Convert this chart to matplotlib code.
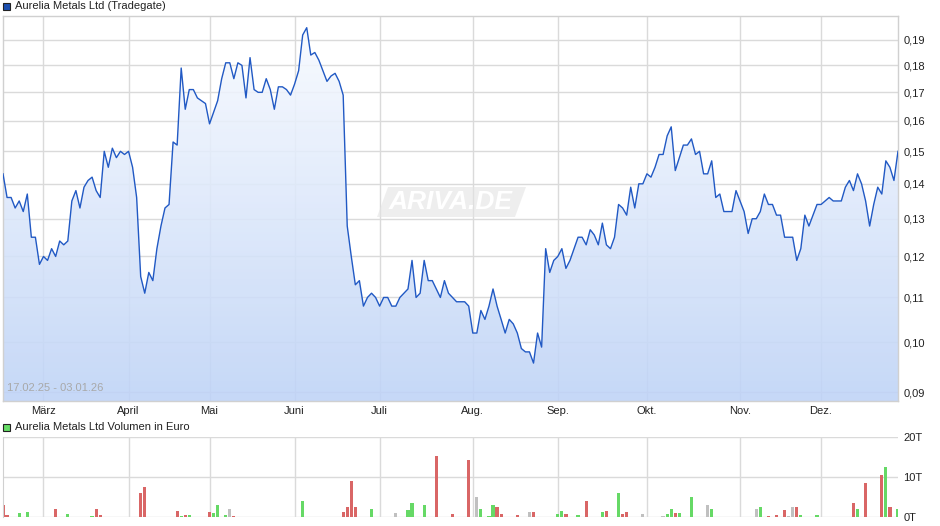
import numpy as np
import pandas as pd
import matplotlib
matplotlib.use("Agg")
import matplotlib.pyplot as plt
from matplotlib.patches import Rectangle, Polygon
from matplotlib.ticker import FixedLocator, NullLocator, NullFormatter

plt.rcParams['font.family'] = ['Liberation Sans', 'DejaVu Sans']

# ---------------- data ----------------
title_price = "Aurelia Metals Ltd (Tradegate)"
title_volume = "Aurelia Metals Ltd Volumen in Euro"
date_range_label = "17.02.25 - 03.01.26"
watermark = "ARIVA.DE"
start_date = "2025-02-17"
end_date = "2026-01-02"
holidays = ["2025-04-18", "2025-04-21", "2025-05-01", "2025-12-24",
            "2025-12-25", "2025-12-26", "2025-12-31", "2026-01-01"]
month_labels = ["März", "April", "Mai", "Juni", "Juli", "Aug.", "Sep.",
                "Okt.", "Nov.", "Dez."]

price = [
    0.143, 0.136, 0.136, 0.133, 0.135, 0.132, 0.137, 0.125, 0.125, 0.118,
    0.120, 0.119, 0.122, 0.120, 0.124, 0.123, 0.124, 0.135, 0.138, 0.133,
    0.139, 0.141, 0.142, 0.138, 0.136, 0.150, 0.145, 0.151, 0.148, 0.150,
    0.149, 0.150, 0.145, 0.136, 0.115, 0.111, 0.116, 0.114, 0.122, 0.128,
    0.133, 0.134, 0.153, 0.152, 0.179, 0.164, 0.171, 0.171, 0.168, 0.167,
    0.166, 0.159, 0.163, 0.167, 0.175, 0.181, 0.181, 0.175, 0.181, 0.180,
    0.168, 0.183, 0.171, 0.170, 0.170, 0.175, 0.171, 0.164, 0.172, 0.172,
    0.171, 0.169, 0.173, 0.178, 0.192, 0.195, 0.184, 0.185, 0.182, 0.178,
    0.174, 0.176, 0.177, 0.174, 0.169, 0.128, 0.120, 0.113, 0.114, 0.108,
    0.110, 0.111, 0.110, 0.108, 0.110, 0.110, 0.108, 0.108, 0.110, 0.111,
    0.112, 0.119, 0.110, 0.111, 0.119, 0.114, 0.114, 0.112, 0.110, 0.114,
    0.111, 0.110, 0.109, 0.109, 0.109, 0.108, 0.102, 0.102, 0.107, 0.105,
    0.108, 0.112, 0.108, 0.105, 0.102, 0.105, 0.104, 0.102, 0.0987, 0.098,
    0.098, 0.0957, 0.102, 0.099, 0.122, 0.116, 0.119, 0.120, 0.122, 0.117,
    0.119, 0.122, 0.125, 0.125, 0.123, 0.127, 0.1256, 0.123, 0.1288, 0.123,
    0.122, 0.125, 0.134, 0.133, 0.131, 0.139, 0.133, 0.140, 0.140, 0.143,
    0.142, 0.145, 0.149, 0.149, 0.155, 0.158, 0.144, 0.148, 0.152, 0.152,
    0.154, 0.149, 0.150, 0.143, 0.143, 0.147, 0.136, 0.137, 0.132, 0.132,
    0.132, 0.138, 0.135, 0.132, 0.126, 0.130, 0.130, 0.132, 0.137, 0.134,
    0.134, 0.131, 0.131, 0.125, 0.125, 0.125, 0.119, 0.122, 0.131, 0.128,
    0.131, 0.134, 0.134, 0.135, 0.136, 0.135, 0.135, 0.135, 0.139, 0.141,
    0.138, 0.143, 0.140, 0.135, 0.128, 0.134, 0.139, 0.137, 0.147, 0.145,
    0.141, 0.150]

# volume (in thousand euro), by trading-day number, with bar direction
vol_day = [0, 1, 4, 6, 13, 16, 22, 23, 24, 34, 35, 43, 44, 45, 46, 51, 52, 53,
           55, 56, 57, 74, 84, 85, 86, 87, 91, 97, 100, 101, 104, 107, 111,
           115, 117, 118, 120, 121, 122, 123, 127, 130, 131, 137, 138, 139,
           142, 144, 148, 149, 152, 153, 154, 158, 163, 164, 165, 166, 167,
           170, 174, 175, 186, 187, 189, 191, 193, 194, 195, 196, 197, 201,
           210, 211, 213, 217, 218, 219, 221]
vol_val = [2.9, 0.4, 0.9, 1.2, 2.1, 0.7, 0.2, 2.1, 0.4, 5.9, 7.6, 1.4, 0.2, 0.4,
           0.4, 1.2, 0.9, 3.1, 0.4, 2.1, 0.2, 4.1, 1.2, 2.6, 9.1, 2.6, 1.9,
           0.9, 1.7, 3.4, 3.1, 15.3, 0.7, 14.3, 4.9, 2.1, 0.2, 2.9, 2.4, 0.7,
           0.4, 1.2, 1.2, 0.7, 1.4, 0.7, 0.4, 4.1, 1.2, 1.4, 6.1, 0.7, 1.2,
           0.7, 0.2, 0.7, 1.9, 0.9, 0.9, 4.9, 2.9, 2.1, 2.1, 2.6, 0.2, 0.4,
           1.7, 0.2, 2.6, 2.4, 0.4, 0.4, 3.4, 1.9, 8.6, 10.6, 12.6, 2.6, 2.1]
vol_dir = ["d", "d", "u", "u", "d", "u", "u", "d", "d", "d", "d", "d", "u", "d",
           "u", "d", "u", "u", "u", "n", "d", "u", "d", "d", "d", "d", "u",
           "n", "u", "u", "u", "d", "d", "d", "n", "u", "u", "u", "d", "d",
           "d", "n", "d", "u", "u", "d", "u", "d", "u", "d", "u", "d", "d",
           "n", "n", "u", "u", "d", "u", "u", "n", "u", "n", "u", "d", "d",
           "d", "n", "n", "d", "u", "u", "d", "u", "d", "d", "u", "d", "u"]
vol_ticks = [0, 10, 20]
vol_ticklabels = ["0T", "10T", "20T"]
price_ticks = [0.09, 0.10, 0.11, 0.12, 0.13, 0.14, 0.15, 0.16, 0.17, 0.18, 0.19]

# ---------------- derived ----------------
days = pd.bdate_range(start_date, end_date)
days = days[~days.isin(pd.to_datetime(holidays))]
x = np.arange(len(days))
month_id = days.year * 12 + days.month
month_pos = [i for i in range(1, len(days)) if month_id[i] != month_id[i - 1]][:len(month_labels)]

W, H = 940, 526
fig = plt.figure(figsize=(W / 100, H / 100), dpi=100)


def fx(px):
    return px / W


def fy(py):
    return 1 - py / H


grid_col = "#dadada"
txt_col = "#222222"

# ---------------- price axes ----------------
AX_L, AX_R, AX_T, AX_B = 3, 898, 16, 401
ax = fig.add_axes([fx(AX_L), fy(AX_B), fx(AX_R) - fx(AX_L), fy(AX_T) - fy(AX_B)])
ax.set_yscale("log")
ax.set_xlim(0, len(x) - 1)
ax.set_ylim(0.0883, 0.1999)
ax.yaxis.set_major_locator(FixedLocator(price_ticks))
ax.yaxis.set_minor_locator(NullLocator())
ax.yaxis.set_minor_formatter(NullFormatter())
ax.set_yticklabels([f"{t:.2f}".replace(".", ",") for t in price_ticks])
ax.yaxis.tick_right()
ax.tick_params(axis="y", length=0, pad=4, labelsize=8, labelcolor=txt_col)
ax.set_xticks(month_pos)
ax.set_xticklabels(month_labels)
ax.tick_params(axis="x", length=0, pad=3.5, labelsize=8, labelcolor=txt_col)
ax.grid(True, color=grid_col, linewidth=1, zorder=0)
ax.set_axisbelow(True)
for s in ax.spines.values():
    s.set_color("#d0d0d0")
    s.set_linewidth(1)

# gradient fill under the line
grad = np.linspace(0, 1, 256).reshape(-1, 1)
top_c = np.array([250, 252, 255]) / 255
bot_c = np.array([190, 211, 247]) / 255
img = top_c[None, None, :] * (1 - grad[:, :, None]) + bot_c[None, None, :] * grad[:, :, None]
im = ax.imshow(img, extent=[0, 1, 0, 1], transform=ax.transAxes, aspect="auto",
               origin="upper", zorder=1, alpha=0.88)
ymin = ax.get_ylim()[0]
verts = [(x[0], ymin)] + list(zip(x, price)) + [(x[-1], ymin)]
poly = Polygon(verts, closed=True, transform=ax.transData, facecolor="none",
               edgecolor="none")
ax.add_patch(poly)
im.set_clip_path(poly)

ax.plot(x, price, color="#2159c4", linewidth=1.0, zorder=3)


# watermark (slanted badge)
def axf(px, py):
    return ((px - AX_L) / (AX_R - AX_L), (AX_B - py) / (AX_B - AX_T))


badge = Polygon([axf(377, 217), axf(515, 217), axf(526, 187), axf(388, 187)],
                closed=True, transform=ax.transAxes, facecolor="#e4e4e4",
                edgecolor="none", alpha=0.6, zorder=2, joinstyle="round")
ax.add_patch(badge)
cx, cy = axf(451, 202)
ax.text(cx, cy, watermark, transform=ax.transAxes, ha="center", va="center",
        fontsize=19, style="italic", fontweight="bold", color="white", zorder=2.5)

ax.text(0.005, 0.02, date_range_label, transform=ax.transAxes, ha="left",
        va="bottom", fontsize=8, color="#a8a8a8", zorder=4)

# ---------------- volume axes ----------------
av = fig.add_axes([fx(AX_L), fy(517), fx(AX_R) - fx(AX_L), fy(437) - fy(517)])
av.set_xlim(0, len(x) - 1)
av.set_ylim(0, 20)
col_map = {"u": "#66d966", "d": "#d96666", "n": "#c0c0c0"}
av.bar(vol_day, vol_val, width=0.8, color=[col_map[d] for d in vol_dir], zorder=2)
av.set_yticks(vol_ticks)
av.set_yticklabels(vol_ticklabels)
av.yaxis.tick_right()
av.tick_params(axis="y", length=0, pad=4, labelsize=8, labelcolor=txt_col)
av.set_xticks(month_pos)
av.set_xticklabels([])
av.tick_params(axis="x", length=0)
av.grid(True, color=grid_col, linewidth=1, zorder=0)
av.set_axisbelow(True)
for s in av.spines.values():
    s.set_visible(False)
av.spines["left"].set_visible(True)
av.spines["left"].set_color("#d0d0d0")

# ---------------- legends ----------------
fig.add_artist(Rectangle((fx(3), fy(10)), fx(7), fy(3) - fy(10), transform=fig.transFigure,
                         facecolor="#1c4fb0", edgecolor="#222222", linewidth=0.8))
fig.text(fx(15), fy(6), title_price, ha="left", va="center", fontsize=8, color=txt_col)
fig.add_artist(Rectangle((fx(3), fy(431)), fx(7), fy(424) - fy(431), transform=fig.transFigure,
                         facecolor="#66dd66", edgecolor="#222222", linewidth=0.8))
fig.text(fx(15), fy(427), title_volume, ha="left", va="center", fontsize=8, color=txt_col)

fig.savefig("out.png", dpi=100)
